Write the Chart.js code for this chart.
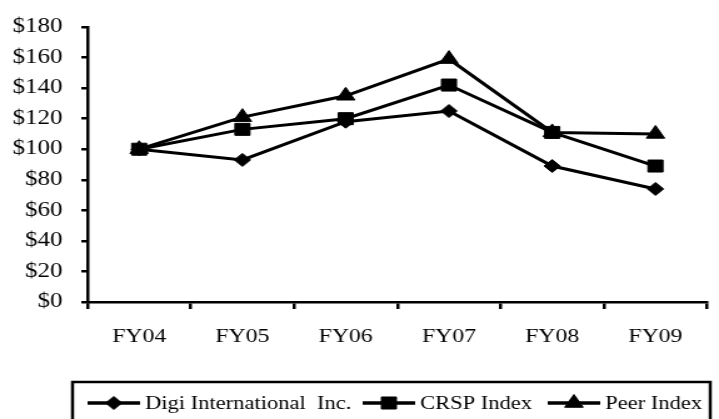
<!DOCTYPE html>
<html>
<head>
<meta charset="utf-8">
<script src="https://cdn.jsdelivr.net/npm/chart.js@4.4.1/dist/chart.umd.min.js"></script>
<style>
  html, body { margin: 0; padding: 0; background: #fff; overflow: hidden; }
  /* the source picture is stretched sideways, so draw narrow and stretch */
  #wrap { width: 575px; height: 419px; transform: scaleX(1.2504); transform-origin: 0 0; }
</style>
</head>
<body>
<div id="wrap"><canvas id="myChart"></canvas></div>
<script>
const years = ['FY04', 'FY05', 'FY06', 'FY07', 'FY08', 'FY09'];
const digiValues = [100, 93, 118, 125, 89, 74];
const crspValues = [100, 113, 120, 142, 111, 89];
const peerValues = [100, 121, 135, 159, 111, 110];
const yTicks = [0, 20, 40, 60, 80, 100, 120, 140, 160, 180];

const serif = '"Liberation Serif", "Times New Roman", serif';

// legend drawn in the box under the axis
const legendBox = {
    id: 'legendBox',
    afterDraw(chart, args, opts) {
        const ctx = chart.ctx;
        ctx.save();
        ctx.strokeStyle = '#000';
        ctx.fillStyle = '#000';
        ctx.lineWidth = 2.5;
        ctx.strokeRect(opts.left, opts.top, opts.right - opts.left, 80);

        ctx.font = '18px ' + serif;
        ctx.textBaseline = 'middle';
        chart.data.datasets.forEach((ds, i) => {
            const x = opts.itemX[i];
            const y = opts.y;
            ctx.lineWidth = 3.5;
            ctx.beginPath();
            ctx.moveTo(x, y);
            ctx.lineTo(x + opts.lineLen, y);
            ctx.stroke();
            ctx.lineWidth = 1;
            Chart.helpers.drawPoint(ctx, {
                pointStyle: ds.pointStyle,
                radius: ds.pointRadius,
                rotation: 0,
                borderWidth: 1
            }, x + opts.lineLen / 2, y);
            ctx.fillText(ds.label, x + opts.lineLen + 4, y + 1);
        });
        ctx.restore();
    }
};

function series(label, values, style, radius, order) {
    return {
        label: label,
        data: values,
        borderColor: '#000',
        backgroundColor: '#000',
        borderWidth: 3,
        pointStyle: style,
        pointRadius: radius,
        pointBorderWidth: 1,
        pointBackgroundColor: '#000',
        pointBorderColor: '#000',
        tension: 0,
        fill: false,
        order: order
    };
}

new Chart(document.getElementById('myChart').getContext('2d'), {
    type: 'line',
    data: {
        labels: years,
        datasets: [
            series('Digi International  Inc.', digiValues, 'rectRot', 6.5, 1),
            series('CRSP Index', crspValues, 'rect', 8.5, 0),
            series('Peer Index', peerValues, 'triangle', 8.5, 2)
        ]
    },
    options: {
        responsive: true,
        maintainAspectRatio: false,
        animation: false,
        layout: { padding: { top: 22, right: 1, left: 0, bottom: 0 } },
        scales: {
            x: {
                type: 'category',
                offset: true,
                grid: {
                    offset: true,
                    drawOnChartArea: false,
                    tickLength: 7,
                    color: '#000',
                    lineWidth: 2.5
                },
                border: { color: '#000', width: 2.5 },
                ticks: {
                    color: '#000',
                    font: { family: serif, size: 19 },
                    padding: 17,
                    maxRotation: 0,
                    autoSkip: false
                },
                afterFit: s => { s.height = 117; }
            },
            y: {
                min: 0,
                max: 180,
                afterBuildTicks: s => { s.ticks = yTicks.map(v => ({ value: v })); },
                grid: {
                    drawOnChartArea: false,
                    tickLength: 5,
                    color: '#000',
                    lineWidth: 2.5
                },
                border: { color: '#000', width: 2.5 },
                ticks: {
                    color: '#000',
                    font: { family: serif, size: 20 },
                    padding: 15,
                    callback: value => '$' + value
                },
                afterFit: s => { s.width = 70; }
            }
        },
        plugins: {
            legend: { display: false },
            tooltip: { enabled: false },
            legendBox: {
                left: 58,
                right: 568,
                top: 382,
                y: 403,
                lineLen: 42,
                itemX: [70, 290, 438]
            }
        }
    },
    plugins: [legendBox]
});
</script>
</body>
</html>
